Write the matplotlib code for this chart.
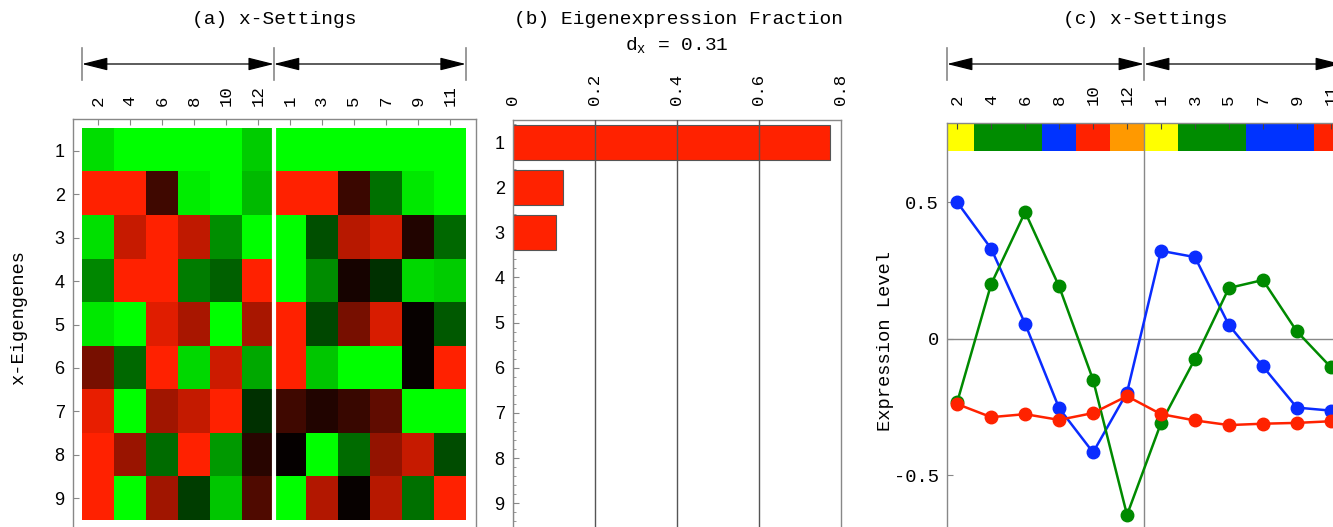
import numpy as np
import matplotlib
matplotlib.use('Agg')
import matplotlib.pyplot as plt
import matplotlib.transforms as mtransforms

plt.rcParams['mathtext.fontset'] = 'custom'
plt.rcParams['mathtext.tt'] = 'Liberation Mono'
plt.rcParams['mathtext.rm'] = 'Liberation Mono'

MONO = ['Liberation Mono', 'DejaVu Sans Mono']
SANS = ['Liberation Sans', 'DejaVu Sans']
GRAY = '#888888'

# settings: first group even numbered, second group odd numbered
setting_labels = ['2', '4', '6', '8', '10', '12', '1', '3', '5', '7', '9', '11']
eigengenes = list(range(1, 10))

# eigengene x setting pattern, >0 green, <0 red
pattern = np.array([
    [0.87, 1.00, 1.00, 1.00, 1.00, 0.80, 1.00, 1.00, 1.00, 1.00, 1.00, 1.00],
    [-1.00, -1.00, -0.25, 0.93, 1.00, 0.73, -1.00, -1.00, -0.23, 0.44, 0.91, 1.00],
    [0.88, -0.78, -1.00, -0.75, 0.56, 1.00, 1.00, 0.31, -0.72, -0.83, -0.13, 0.41],
    [0.53, -1.00, -1.00, 0.49, 0.38, -1.00, 1.00, 0.55, -0.09, 0.19, 0.85, 0.80],
    [0.91, 1.00, -0.88, -0.66, 1.00, -0.66, -1.00, 0.28, -0.47, -0.85, -0.03, 0.35],
    [-0.47, 0.41, -1.00, 0.85, -0.80, 0.66, -1.00, 0.78, 1.00, 1.00, -0.03, -1.00],
    [-0.91, 1.00, -0.63, -0.77, -1.00, 0.19, -0.25, -0.13, -0.22, -0.38, 1.00, 1.00],
    [-1.00, -0.60, 0.42, -1.00, 0.60, -0.16, -0.02, 1.00, 0.42, -0.58, -0.78, 0.30],
    [-1.00, 1.00, -0.63, 0.24, 0.78, -0.31, 1.00, -0.70, -0.03, -0.72, 0.44, -1.00],
])

# eigenexpression fractions
fractions = [0.773, 0.122, 0.105, 0, 0, 0, 0, 0, 0]

# expression levels of the first three eigengenes across the settings
eig_blue = [0.50, 0.33, 0.055, -0.254, -0.416, -0.197, 0.322, 0.299, 0.050, -0.101, -0.252, -0.263]
eig_green = [-0.232, 0.200, 0.464, 0.192, -0.150, -0.645, -0.309, -0.074, 0.186, 0.215, 0.027, -0.104]
eig_red = [-0.239, -0.287, -0.276, -0.297, -0.272, -0.210, -0.276, -0.299, -0.316, -0.311, -0.308, -0.302]

# phase colour of each setting
phase_colors = ['#FFFF00', '#008C00', '#008C00', '#0033FF', '#FF2200', '#FF9900',
                '#FFFF00', '#008C00', '#008C00', '#0033FF', '#0033FF', '#FF2200']

W, H = 1333, 527
fig = plt.figure(figsize=(W / 100, H / 100), dpi=100)


def px_axes(left, top, right, bottom):
    return fig.add_axes([left / W, 1 - bottom / H, (right - left) / W, (bottom - top) / H])


def style_spines(ax):
    for s in ax.spines.values():
        s.set_color(GRAY)
        s.set_linewidth(1)


def group_arrows(ax, x0, xm, x1):
    tr = mtransforms.blended_transform_factory(ax.transData, fig.transFigure)
    y = 1 - 64 / H
    for a, b in [(x0, xm), (xm, x1)]:
        ax.annotate('', xy=(b, y), xytext=(a, y), xycoords=tr, textcoords=tr,
                    annotation_clip=False,
                    arrowprops=dict(arrowstyle='<|-|>,head_length=0.8,head_width=0.2',
                                    color='black', lw=0.9, shrinkA=0, shrinkB=0,
                                    mutation_scale=20))
    for x in (x0, xm, x1):
        ax.plot([x, x], [1 - 48 / H, 1 - 80 / H], color=GRAY, lw=1.2, transform=tr,
                clip_on=False)


# (a) heatmap
ax1 = px_axes(73, 119, 476, 560)
rgb = np.zeros(pattern.shape + (3,))
rgb[..., 0] = np.clip(-pattern, 0, 1)
rgb[..., 1] = np.clip(pattern, 0, 1) + 0.133 * np.clip(-pattern, 0, 1)
ax1.imshow(rgb, extent=(-0.5, 11.5, 9.5, 0.5), aspect='auto', interpolation='nearest')
ax1.axvline(5.5, color='white', lw=3)
ax1.set_xlim(-0.78, 11.82)
ax1.set_ylim(10.42, 0.27)
ax1.xaxis.tick_top()
ax1.set_xticks(range(12))
ax1.set_xticklabels(setting_labels, rotation=90, family=MONO, fontsize=12.5)
ax1.set_yticks(eigengenes)
ax1.set_yticklabels([str(e) for e in eigengenes], family=SANS, fontsize=13)
ax1.tick_params(axis='x', direction='in', length=4, color=GRAY, pad=9)
ax1.tick_params(axis='y', direction='in', length=4, color=GRAY, pad=6)
style_spines(ax1)
ax1.set_ylabel('x-Eigengenes', family=MONO, fontsize=13.5)
ax1.yaxis.set_label_coords(-0.115, 0.55)
group_arrows(ax1, -0.5, 5.5, 11.5)
fig.text(274 / W, 1 - 20 / H, '(a) x-Settings', family=MONO, fontsize=14,
         ha='center', va='center')

# (b) eigenexpression fractions
ax2 = px_axes(513, 120, 841, 560)
ax2.barh(eigengenes, fractions, height=0.78, color='#FF2200', edgecolor='#555555',
         lw=0.8, zorder=2)
for g in (0.2, 0.4, 0.6):
    ax2.axvline(g, color='#555555', lw=1, zorder=3)
ax2.set_xlim(0, 0.8)
ax2.set_ylim(10.26, 0.51)
ax2.xaxis.tick_top()
ax2.set_xticks([0, 0.2, 0.4, 0.6, 0.8])
ax2.set_xticklabels(['0', '0.2', '0.4', '0.6', '0.8'], rotation=90, family=MONO, fontsize=12.5)
ax2.set_yticks(eigengenes)
ax2.set_yticklabels([str(e) for e in eigengenes], family=SANS, fontsize=13)
ax2.set_yticks(np.arange(0.6, 10.2, 0.2), minor=True)
ax2.tick_params(axis='x', length=0, pad=11)
ax2.tick_params(axis='y', which='major', direction='in', length=4, color=GRAY, pad=6)
ax2.tick_params(axis='y', which='minor', direction='in', length=2, color=GRAY)
style_spines(ax2)
fig.text(678 / W, 1 - 20 / H, '(b) Eigenexpression Fraction', family=MONO,
         fontsize=14, ha='center', va='center')
fig.text(677 / W, 1 - 46 / H, r'd$_{\mathtt{x}}$ = 0.31', family=MONO,
         fontsize=14, ha='center', va='center')

# (c) eigengene expression across settings
ax3 = px_axes(947, 123, 1341, 560)
x = np.arange(12)
ax3.bar(x, 0.3, width=1.0, bottom=0.689, color=phase_colors, zorder=1)
ax3.axhline(0, color=GRAY, lw=1, zorder=2)
ax3.axvline(5.5, color=GRAY, lw=1, zorder=2)
ax3.plot(x, eig_blue, '-o', color='#0A2CFF', lw=1.8, ms=9, zorder=3)
ax3.plot(x, eig_green, '-o', color='#008A00', lw=1.8, ms=9, zorder=3)
ax3.plot(x, eig_red, '-o', color='#FF2200', lw=1.8, ms=9, zorder=4)
ax3.set_xlim(-0.3, 11.3)
ax3.set_ylim(-0.81, 0.79)
ax3.xaxis.tick_top()
ax3.set_xticks(x)
ax3.set_xticklabels(setting_labels, rotation=90, family=MONO, fontsize=12.5)
ax3.set_yticks([-0.5, 0, 0.5])
ax3.set_yticklabels(['-0.5', '0', '0.5'], family=MONO, fontsize=13.5)
ax3.tick_params(axis='x', direction='in', length=4, color='#444444', pad=13)
ax3.tick_params(axis='y', direction='in', length=4, color=GRAY, pad=6)
style_spines(ax3)
ax3.set_ylabel('Expression Level', family=MONO, fontsize=13.5)
ax3.yaxis.set_label_coords(-0.135, 0.5)
group_arrows(ax3, -0.3, 5.5, 11.3)
fig.text(1145 / W, 1 - 20 / H, '(c) x-Settings', family=MONO, fontsize=14,
         ha='center', va='center')

plt.savefig('out.png', dpi=100)
